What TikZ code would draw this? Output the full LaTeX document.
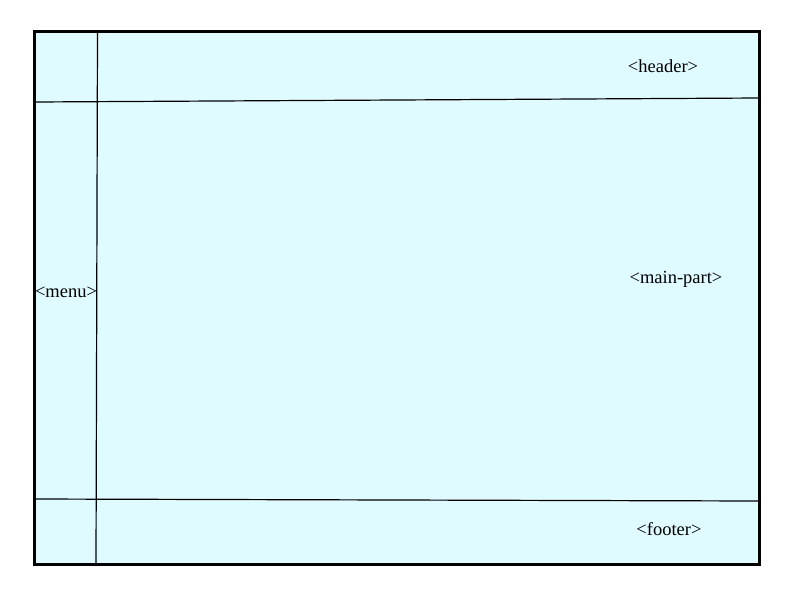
\documentclass[tikz,border=0pt]{standalone}
\usepackage{fontspec}
\setmainfont{Liberation Serif}
\usetikzlibrary{positioning, calc}
\definecolor{pagecyan}{RGB}{224,251,255}

\begin{document}
\begin{tikzpicture}[x=1pt, y=-1pt,
    every node/.style={font=\fontsize{18.5}{22}\selectfont},
    frame/.style={rectangle, draw=black, fill=pagecyan, line width=2pt, minimum width=724pt, minimum height=532pt, inner sep=0pt},
    divider/.style={draw=black, line width=1.2pt},
    tag/.style={inner sep=0pt, text=black}
]
\useasboundingbox (0,0) rectangle (800,600);

\node[frame] (page) at (397,298) {};

% split points on the frame
\coordinate (menuTop) at (97.5,32);
\coordinate (menuBot) at (96,564);
\coordinate (headL) at (35,102);
\coordinate (headR) at (759,98);
\coordinate (footL) at (35,499);
\coordinate (footR) at (759,501);

% dividers
\draw[divider] (headL) -- (headR);
\draw[divider] (footL) -- (footR);
\draw[divider] (menuTop) -- (menuBot);

% region labels
\node[tag] (header) at (663,66) {<header>};
\node[tag] (menu) at (66,292) {<menu>};
\node[tag] (main) at (676,279) {<main-part>};
\node[tag] (footer) at (669,529) {<footer>};

\draw[line width=2pt] (page.north west) rectangle (page.south east);
\end{tikzpicture}
\end{document}
